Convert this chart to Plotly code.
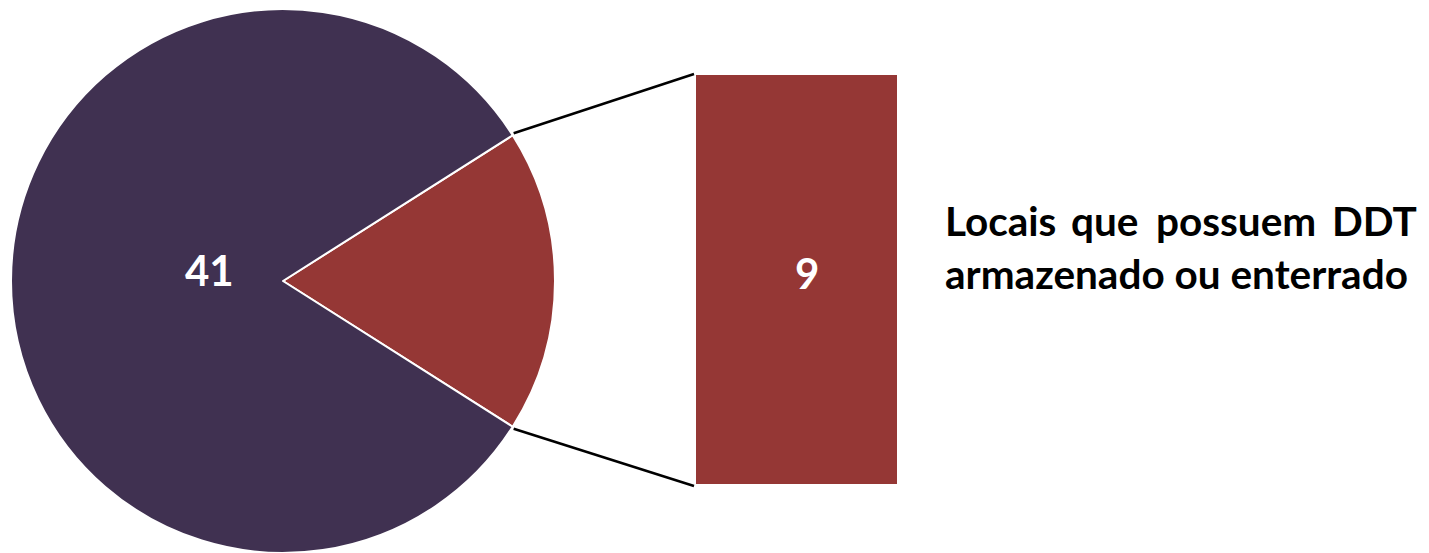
import math
import plotly.graph_objects as go

# ---- data ----
categories = ["Locais que possuem DDT armazenado ou enterrado", "Outros locais"]
values = [9, 41]
colors = ["#953735", "#403151"]
label_line1 = ["Locais", "que", "possuem", "DDT"]
label_line2 = "armazenado ou enterrado"

W, H = 1429, 553
FONT = "Lato"

def px(x):
    return x / W

def py(y):
    return (H - y) / H

total = sum(values)
share = values[0] / total
rotation = 90 - 360 * share / 2

fig = go.Figure()

# pie
pie_left, pie_right, pie_top, pie_bottom = 11, 555, 9, 553
fig.add_trace(go.Pie(
    labels=categories, values=values, sort=False, direction="clockwise",
    rotation=rotation, textinfo="none", hoverinfo="label+value",
    marker=dict(colors=colors, line=dict(color="white", width=2)),
    domain=dict(x=[px(pie_left), px(pie_right)], y=[py(pie_bottom), py(pie_top)]),
    showlegend=False,
))

# bar of pie
bar_left, bar_right, bar_top, bar_bottom = 696, 897, 75, 484
fig.add_trace(go.Bar(
    x=[0], y=[values[0]], width=1, marker=dict(color=colors[0], line=dict(width=0)),
    showlegend=False, hoverinfo="y", xaxis="x", yaxis="y",
))

fig.update_layout(
    width=W, height=H, autosize=False,
    margin=dict(l=0, r=0, t=0, b=0),
    paper_bgcolor="white", plot_bgcolor="rgba(0,0,0,0)",
    xaxis=dict(domain=[px(bar_left), px(bar_right)], range=[-0.5, 0.5], visible=False, fixedrange=True),
    yaxis=dict(domain=[py(bar_bottom), py(bar_top)], range=[0, values[0]], visible=False, fixedrange=True),
)

# connector lines from pie edge to bar corners
cx, cy = (pie_left + pie_right) / 2, (pie_top + pie_bottom) / 2
r = (pie_right - pie_left) / 2
half = math.radians(360 * share / 2)
ex = cx + r * math.cos(half)
ey_top = cy - r * math.sin(half)
ey_bot = cy + r * math.sin(half)
for (x0, y0, x1, y1) in [(ex + 1, ey_top - 2, bar_left - 2, bar_top - 1), (ex + 1, ey_bot + 2, bar_left - 2, bar_bottom + 2)]:
    fig.add_shape(type="line", xref="paper", yref="paper",
                  x0=px(x0), y0=py(y0), x1=px(x1), y1=py(y1),
                  line=dict(color="black", width=2.5))

def ann(text, x, y, size, color, xanchor="center"):
    fig.add_annotation(text=text, x=px(x), y=py(y), xref="paper", yref="paper",
                       xanchor=xanchor, yanchor="middle", showarrow=False,
                       font=dict(family=FONT, size=size, color=color, weight="bold"))

# value labels
ann(str(values[1]), 209, 270, 42, "white")
ann(str(values[0]), 807, 273, 42, "white")

# category label (justified first line)
lbl_size = 40.5
ann(label_line1[0], 943, 220, lbl_size, "black", "left")
ann(label_line1[1], 1104, 220, lbl_size, "black", "center")
ann(label_line1[2], 1236, 220, lbl_size, "black", "center")
ann(label_line1[3], 1419, 220, lbl_size, "black", "right")
ann(label_line2, 943, 273, lbl_size, "black", "left")

fig.write_html("out.html")
